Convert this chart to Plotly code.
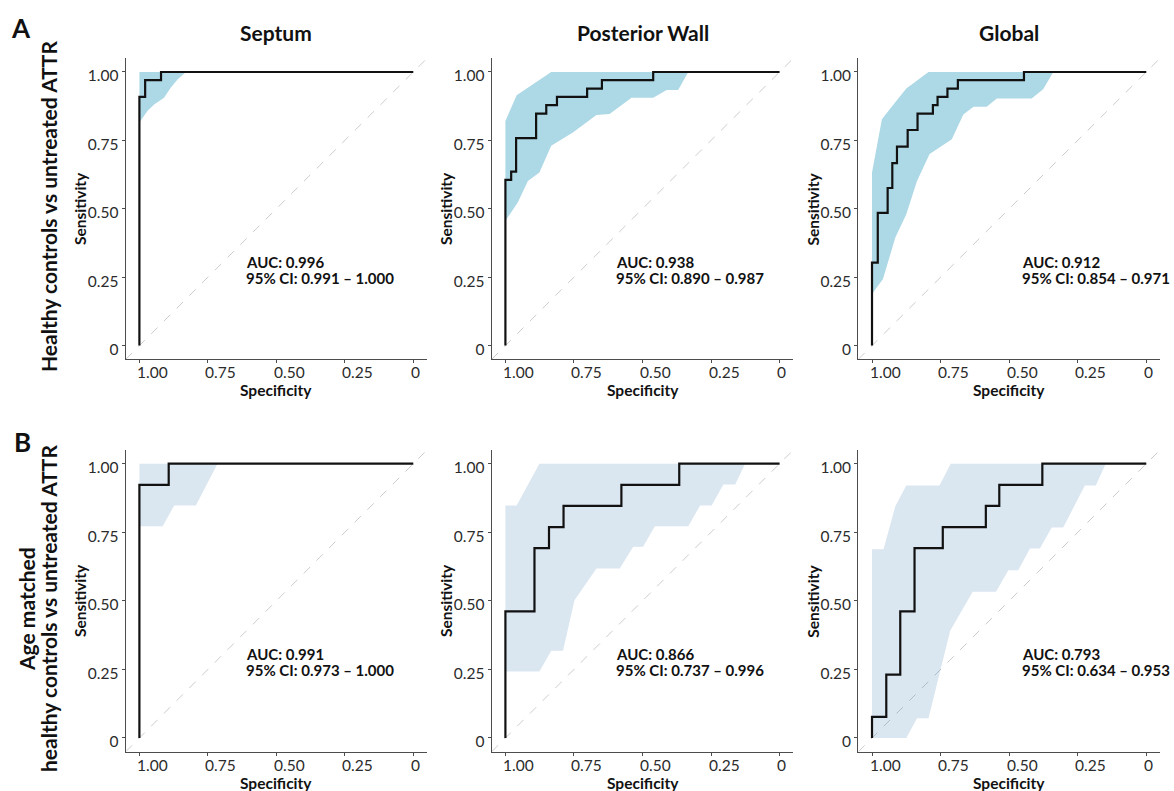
import plotly.graph_objects as go

FONT = "Lato"

# ---------------- text ----------------
panel_titles = ["Septum", "Posterior Wall", "Global"]
auc_labels = ["AUC: 0.996", "AUC: 0.938", "AUC: 0.912",
              "AUC: 0.991", "AUC: 0.866", "AUC: 0.793"]
ci_labels = ["95% CI: 0.991 \u2013 1.000", "95% CI: 0.890 \u2013 0.987", "95% CI: 0.854 \u2013 0.971",
             "95% CI: 0.973 \u2013 1.000", "95% CI: 0.737 \u2013 0.996", "95% CI: 0.634 \u2013 0.953"]
auc_text_x = [0.617, 0.605, 0.46, 0.617, 0.605, 0.46]
x_tick_vals = [1.0, 0.75, 0.5, 0.25, 0.0]
x_tick_text = ["1.00", "0.75", "0.50", "0.25", "0"]
y_tick_vals = [0.0, 0.25, 0.5, 0.75, 1.0]
y_tick_text = ["0", "0.25", "0.50", "0.75", "1.00"]

# ---------------- ROC curves (specificity, sensitivity) ----------------
a_septum_spec = [1.0, 0.979, 0.921, 0.0]
a_septum_sens = [0.0, 0.909, 0.970, 1.0]
a_post_spec = [1.0, 0.979, 0.961, 0.888, 0.851, 0.812, 0.702, 0.648, 0.461, 0.0]
a_post_sens = [0.0, 0.606, 0.636, 0.758, 0.848, 0.879, 0.909, 0.939, 0.970, 1.0]
a_glob_spec = [1.0, 0.979, 0.943, 0.926, 0.909, 0.870, 0.834, 0.778, 0.761, 0.725, 0.687, 0.446, 0.0]
a_glob_sens = [0.0, 0.303, 0.485, 0.576, 0.667, 0.727, 0.788, 0.848, 0.879, 0.909, 0.939, 0.970, 1.0]
b_septum_spec = [1.0, 0.893, 0.0]
b_septum_sens = [0.0, 0.923, 1.0]
b_post_spec = [1.0, 0.894, 0.841, 0.788, 0.577, 0.366, 0.0]
b_post_sens = [0.0, 0.4615, 0.692, 0.769, 0.846, 0.923, 1.0]
b_glob_spec = [1.0, 0.948, 0.897, 0.845, 0.742, 0.585, 0.536, 0.379, 0.0]
b_glob_sens = [0.0, 0.077, 0.231, 0.4615, 0.692, 0.769, 0.846, 0.923, 1.0]

# ---------------- 95% CI bands of sensitivity ----------------
a_septum_up_spec = [1.0, 0.83]
a_septum_up_sens = [1.0, 1.0]
a_septum_lo_spec = [1.0, 0.97, 0.945, 0.91, 0.885, 0.86, 0.83]
a_septum_lo_sens = [0.815, 0.858, 0.882, 0.906, 0.943, 0.973, 1.0]

a_post_up_spec = [1.0, 0.959, 0.833]
a_post_up_sens = [0.821, 0.915, 1.0]
a_post_lo_spec = [1.0, 0.955, 0.918, 0.876, 0.833, 0.754, 0.668, 0.620, 0.540, 0.461, 0.412, 0.370, 0.333]
a_post_lo_sens = [0.456, 0.523, 0.602, 0.633, 0.730, 0.779, 0.843, 0.846, 0.906, 0.906, 0.934, 0.934, 1.0]

a_glob_up_spec = [1.0, 0.964, 0.921, 0.875, 0.794]
a_glob_up_sens = [0.633, 0.827, 0.882, 0.940, 1.0]
a_glob_lo_spec = [1.0, 0.96, 0.915, 0.875, 0.836, 0.790, 0.709, 0.667, 0.630, 0.582, 0.545, 0.418, 0.376, 0.339]
a_glob_lo_sens = [0.189, 0.243, 0.395, 0.480, 0.602, 0.700, 0.754, 0.845, 0.873, 0.873, 0.903, 0.903, 0.937, 1.0]

b_septum_up_spec = [1.0, 0.715]
b_septum_up_sens = [1.0, 1.0]
b_septum_lo_spec = [1.0, 0.915, 0.873, 0.794, 0.715]
b_septum_lo_sens = [0.772, 0.772, 0.848, 0.848, 1.0]

b_post_up_spec = [1.0, 0.959, 0.876]
b_post_up_sens = [0.848, 0.848, 1.0]
b_post_lo_spec = [1.0, 0.876, 0.833, 0.790, 0.748, 0.668, 0.583, 0.534, 0.498, 0.455, 0.333, 0.290, 0.248, 0.205, 0.162, 0.126]
b_post_lo_sens = [0.242, 0.242, 0.318, 0.318, 0.502, 0.618, 0.618, 0.697, 0.697, 0.772, 0.772, 0.848, 0.848, 0.924, 0.924, 1.0]

b_glob_up_spec = [1.0, 0.958, 0.915, 0.875, 0.754, 0.713]
b_glob_up_sens = [0.688, 0.688, 0.845, 0.921, 0.921, 1.0]
b_glob_lo_spec = [1.0, 0.875, 0.836, 0.794, 0.715, 0.633, 0.548, 0.503, 0.467, 0.424, 0.388, 0.345, 0.303, 0.224, 0.184, 0.148]
b_glob_lo_sens = [0.0, 0.0, 0.072, 0.072, 0.391, 0.533, 0.533, 0.612, 0.612, 0.691, 0.691, 0.767, 0.767, 0.921, 0.921, 1.0]

panels = [
    (a_septum_spec, a_septum_sens, a_septum_up_spec, a_septum_up_sens, a_septum_lo_spec, a_septum_lo_sens),
    (a_post_spec, a_post_sens, a_post_up_spec, a_post_up_sens, a_post_lo_spec, a_post_lo_sens),
    (a_glob_spec, a_glob_sens, a_glob_up_spec, a_glob_up_sens, a_glob_lo_spec, a_glob_lo_sens),
    (b_septum_spec, b_septum_sens, b_septum_up_spec, b_septum_up_sens, b_septum_lo_spec, b_septum_lo_sens),
    (b_post_spec, b_post_sens, b_post_up_spec, b_post_up_sens, b_post_lo_spec, b_post_lo_sens),
    (b_glob_spec, b_glob_sens, b_glob_up_spec, b_glob_up_sens, b_glob_lo_spec, b_glob_lo_sens),
]

# ---------------- layout geometry ----------------
W, H = 1174, 791
X_DOM = [[125.7 / W, 427.0 / W], [491.7 / W, 793.3 / W], [858.3 / W, 1160.0 / W]]
Y_DOM = [[1 - 359.3 / H, 1 - 58.3 / H], [1 - 751.7 / H, 1 - 450.0 / H]]
X_RANGE = [1.05, -0.05]
Y_RANGE = [-0.05, 1.05]
ROW_FILL = ["#ADD8E6", "rgba(70,130,180,0.2)"]
AXIS_COLOR = "#4d4d4d"
TEXT_COLOR = "#111111"
TICK_COLOR = "#2b2b2b"

fig = go.Figure()
annotations = []

for i, (spec, sens, up_s, up_v, lo_s, lo_v) in enumerate(panels):
    r, c = divmod(i, 3)
    k = i + 1
    xa = "x" if k == 1 else f"x{k}"
    ya = "y" if k == 1 else f"y{k}"

    # chance line
    fig.add_trace(go.Scatter(x=X_RANGE, y=[1 - v for v in X_RANGE], mode="lines",
                             line=dict(color="#cccccc", width=1, dash="dash"),
                             xaxis=xa, yaxis=ya, hoverinfo="skip", showlegend=False))
    # CI ribbon
    fig.add_trace(go.Scatter(x=up_s + lo_s[::-1], y=up_v + lo_v[::-1], mode="lines",
                             fill="toself", fillcolor=ROW_FILL[r], line=dict(width=0),
                             xaxis=xa, yaxis=ya, hoverinfo="skip", showlegend=False))
    # ROC curve
    fig.add_trace(go.Scatter(x=spec, y=sens, mode="lines",
                             line=dict(color=TEXT_COLOR, width=2.2, shape="vh"),
                             xaxis=xa, yaxis=ya, showlegend=False))

    axis_common = dict(showgrid=False, zeroline=False, showline=True, linecolor=AXIS_COLOR,
                       linewidth=1.2, ticks="outside", ticklen=3, tickcolor=AXIS_COLOR,
                       tickwidth=1)
    fig.layout[f"xaxis{'' if k == 1 else k}"] = dict(
        domain=X_DOM[c], range=X_RANGE, anchor=ya, tickvals=x_tick_vals,
        showticklabels=False, **axis_common)
    fig.layout[f"yaxis{'' if k == 1 else k}"] = dict(
        domain=Y_DOM[r], range=Y_RANGE, anchor=xa, tickvals=y_tick_vals, ticktext=y_tick_text,
        tickfont=dict(family=FONT, size=15.5, color=TICK_COLOR), ticklabelshift=4, **axis_common)

    # x tick labels (left-anchored as in the reference)
    for tv, tt in zip(x_tick_vals, x_tick_text):
        annotations.append(dict(x=tv, xref=xa, y=0, yref=f"{ya} domain", text=tt,
                                showarrow=False, xanchor="left", yanchor="top",
                                xshift=-4.5, yshift=-2,
                                font=dict(family=FONT, size=15.5, color=TICK_COLOR)))

    # AUC text
    annotations.append(dict(x=auc_text_x[i], xref=xa, y=0.305, yref=ya, text=f"<b>{auc_labels[i]}</b>",
                            showarrow=False, xanchor="left", yanchor="middle",
                            font=dict(family=FONT, size=15, color=TEXT_COLOR)))
    annotations.append(dict(x=auc_text_x[i], xref=xa, y=0.247, yref=ya, text=f"<b>{ci_labels[i]}</b>",
                            showarrow=False, xanchor="left", yanchor="middle",
                            font=dict(family=FONT, size=15, color=TEXT_COLOR)))

    # axis titles
    xmid = (X_DOM[c][0] + X_DOM[c][1]) / 2
    ymid = (Y_DOM[r][0] + Y_DOM[r][1]) / 2
    annotations.append(dict(x=X_DOM[c][0] - 45.5 / W, xref="paper", y=ymid, yref="paper",
                            text="<b>Sensitivity</b>", textangle=-90, showarrow=False,
                            xanchor="center", yanchor="middle",
                            font=dict(family=FONT, size=15.5, color=TEXT_COLOR)))
    annotations.append(dict(x=xmid, xref="paper", y=Y_DOM[r][0] - 31 / H, yref="paper",
                            text="<b>Specificity</b>", showarrow=False,
                            xanchor="center", yanchor="middle",
                            font=dict(family=FONT, size=15.5, color=TEXT_COLOR)))

# panel titles
for c, t in enumerate(panel_titles):
    annotations.append(dict(x=(X_DOM[c][0] + X_DOM[c][1]) / 2, xref="paper", y=1 - 33 / H, yref="paper",
                            text=f"<b>{t}</b>", showarrow=False, xanchor="center", yanchor="middle",
                            font=dict(family=FONT, size=21, color=TEXT_COLOR)))

# row letters
annotations.append(dict(x=21 / W, y=1 - 28 / H, xref="paper", yref="paper", text="<b>A</b>",
                        showarrow=False, xanchor="center", yanchor="middle",
                        font=dict(family=FONT, size=26, color=TEXT_COLOR)))
annotations.append(dict(x=22.5 / W, y=1 - 442 / H, xref="paper", yref="paper", text="<b>B</b>",
                        showarrow=False, xanchor="center", yanchor="middle",
                        font=dict(family=FONT, size=26, color=TEXT_COLOR)))

# row labels
annotations.append(dict(x=49 / W, y=1 - 207 / H, xref="paper", yref="paper",
                        text="<b>Healthy controls vs untreated ATTR</b>", textangle=-90,
                        showarrow=False, xanchor="center", yanchor="middle",
                        font=dict(family=FONT, size=21, color=TEXT_COLOR)))
annotations.append(dict(x=26 / W, y=1 - 609 / H, xref="paper", yref="paper",
                        text="<b>Age matched</b>", textangle=-90,
                        showarrow=False, xanchor="center", yanchor="middle",
                        font=dict(family=FONT, size=21, color=TEXT_COLOR)))
annotations.append(dict(x=48 / W, y=1 - 609 / H, xref="paper", yref="paper",
                        text="<b>healthy controls vs untreated ATTR</b>", textangle=-90,
                        showarrow=False, xanchor="center", yanchor="middle",
                        font=dict(family=FONT, size=21, color=TEXT_COLOR)))

fig.update_layout(width=W, height=H, margin=dict(l=0, r=0, t=0, b=0),
                  paper_bgcolor="white", plot_bgcolor="white", showlegend=False,
                  annotations=annotations, font=dict(family=FONT))

fig.write_html("out.html", config={"displayModeBar": False},
               post_script="document.body.style.margin='0px';document.body.style.padding='0px';"
                           "document.body.style.overflow='hidden';")
